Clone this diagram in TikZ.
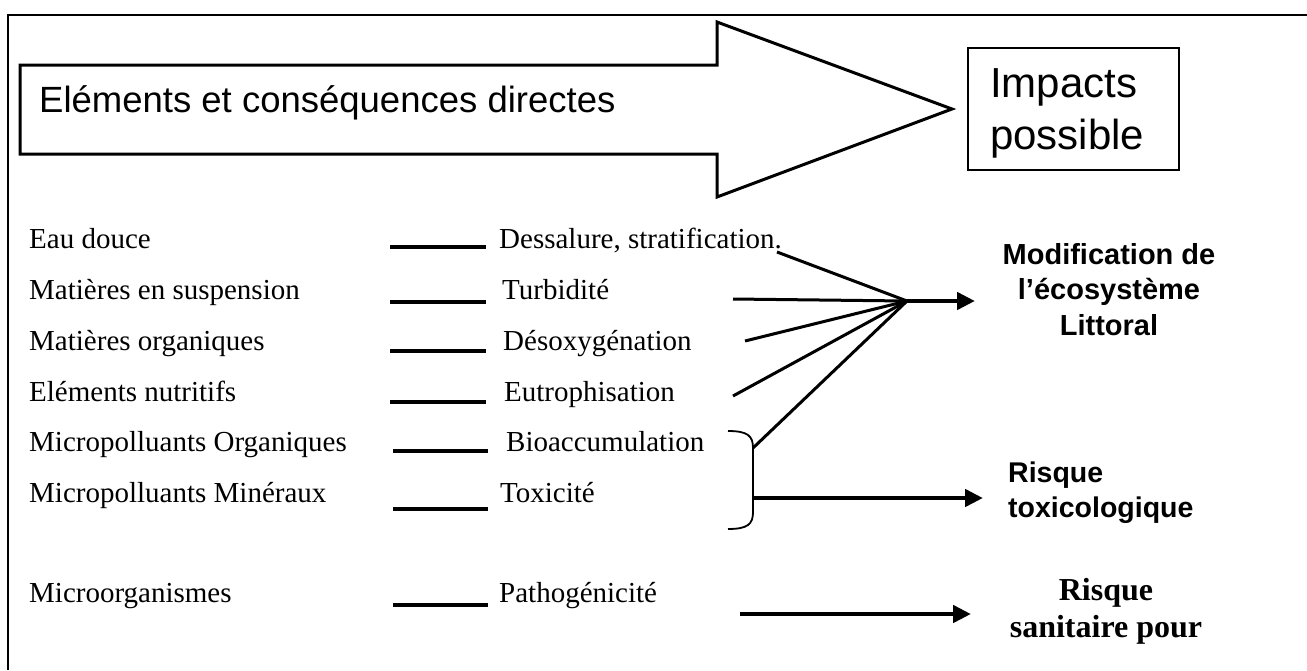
\documentclass[tikz,border=0pt]{standalone}
\usepackage{fontspec}
\setmainfont{Liberation Serif}
\newfontfamily\arial{Liberation Sans}
\usetikzlibrary{arrows.meta}
\begin{document}
\begin{tikzpicture}[x=1pt,y=-1pt,
  lbl/.style={anchor=base west,inner sep=0pt,font=\fontsize{29}{34}\selectfont},
  ul/.style={line width=3.5pt},
  fanline/.style={line width=3pt},
  bigarrow/.style={line width=4.5pt,-{Triangle[length=18pt,width=17pt]}},
  frameline/.style={line width=2pt},
  outcome/.style={inner sep=0pt,font=\arial\bfseries\fontsize{29}{35.5}\selectfont},
]
\useasboundingbox (0,0) rectangle (1307,670);
% frame
\draw[frameline] (7,15) -- (1307,15);
\draw[frameline] (8,14) -- (8,670);
% big arrow
\draw[line width=3pt,line join=miter] (20,65) -- (717,65) -- (717,22) -- (952,109) -- (717,197) -- (717,154) -- (20,154) -- cycle;
\node[anchor=base west,inner sep=0pt,font=\arial\fontsize{36.5}{40}\selectfont] (title) at (39,112) {Eléments et conséquences directes};
% impacts box
\node[draw,line width=1.3pt,minimum width=211pt,minimum height=122pt,inner sep=0pt] (impacts) at (1073.5,109) {};
\node[anchor=north west,align=left,inner sep=0pt,font=\arial\fontsize{42}{52}\selectfont] (imptxt) at (990,68) {Impacts\\possible};
% left labels
\node[lbl] (l1) at (29,248) {Eau douce};
\node[lbl] (l2) at (29,299) {Matières en suspension};
\node[lbl] (l3) at (29,350) {Matières organiques};
\node[lbl] (l4) at (29,401) {Eléments nutritifs};
\node[lbl] (l5) at (29,451) {Micropolluants Organiques};
\node[lbl] (l6) at (29,502) {Micropolluants Minéraux};
\node[lbl] (l7) at (29,602) {Microorganismes};
% right labels
\node[lbl] (r1) at (499,248) {Dessalure, stratification.};
\node[lbl] (r2) at (502,299) {Turbidité};
\node[lbl] (r3) at (503,350) {Désoxygénation};
\node[lbl] (r4) at (504,401) {Eutrophisation};
\node[lbl] (r5) at (506,451) {Bioaccumulation};
\node[lbl] (r6) at (500,502) {Toxicité};
\node[lbl] (r7) at (499,602) {Pathogénicité};
% dashes
\foreach \i/\xa/\xb/\yy in {1/390/486/247,2/390/486/302,3/390/486/351,4/390/486/402,5/393/488/451,6/393/488/509,7/393/488/605}{
  \coordinate (u\i a) at (\xa,\yy);
  \coordinate (u\i b) at (\xb,\yy);
  \draw[ul] (u\i a) -- (u\i b);
}
% fan
\coordinate (hub) at (907,301);
\coordinate (f1) at (777,252);
\coordinate (f2) at (733,299);
\coordinate (f3) at (745,341);
\coordinate (f4) at (733,396);
\coordinate (bt) at (753,448);
\foreach \p in {f1,f2,f3,f4,bt} \draw[fanline] (\p) -- (hub);
% brace
\draw[line width=1.8pt] (728,431) .. controls (748,431) and (753,436) .. (bt) -- (753,512) .. controls (753,524) and (748,529) .. (728,529);
\coordinate (bm) at (753,498);
% outcomes
\node[outcome,anchor=north,align=center] (modif) at (1109,243) {Modification de\\l’écosystème\\Littoral};
\node[outcome,anchor=north west,align=left,font=\arial\bfseries\fontsize{28.5}{35}\selectfont] (tox) at (1008,461.5) {Risque\\toxicologique};
\node[inner sep=0pt,anchor=north,align=center,font=\bfseries\fontsize{32}{37}\selectfont] (sani) at (1106,578) {Risque\\sanitaire pour};
\coordinate (m1) at (975,301);
\coordinate (t1) at (983,498);
\coordinate (s0) at (740,614);
\coordinate (s1) at (971,614);
\draw[bigarrow] (hub) -- (m1);
\draw[bigarrow] (bm) -- (t1);
\draw[bigarrow] (s0) -- (s1);
\end{tikzpicture}
\end{document}
